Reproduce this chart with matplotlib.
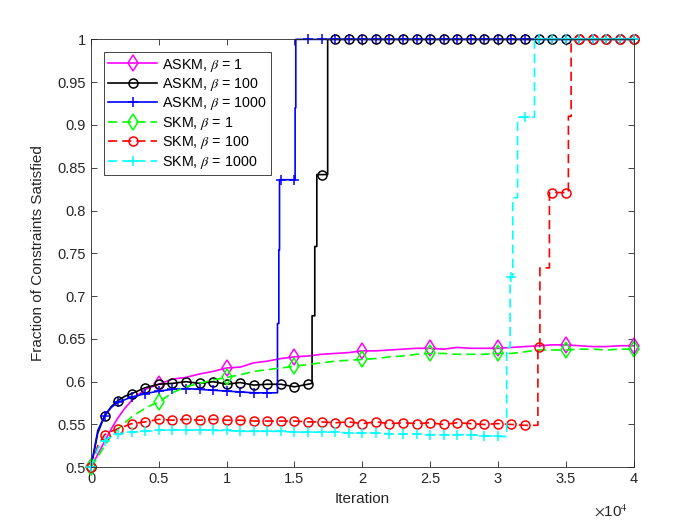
import numpy as np
import matplotlib
matplotlib.use("Agg")
import matplotlib.pyplot as plt

# values (iteration, fraction satisfied)
askm1_x = [0, 500, 1000, 1500, 2000, 2500, 3000, 3500, 4000, 5000, 6000, 7000, 8000, 9000,
           10000, 11000, 12000, 13000, 14000, 15000, 16000, 17000, 18000, 19000, 20000,
           21000, 22000, 23000, 24000, 25000, 26000, 27000, 28000, 29000, 30000,
           31000, 32000, 33000, 34000, 35000, 36000, 37000, 38000, 39000, 40000]
askm1_y = [0.5, 0.515, 0.53, 0.545, 0.558, 0.569, 0.578, 0.585, 0.591, 0.597, 0.603, 0.605, 0.609, 0.612,
           0.616, 0.617, 0.622, 0.624, 0.627, 0.629, 0.63, 0.632, 0.633, 0.634, 0.636,
           0.636, 0.637, 0.638, 0.639, 0.639, 0.638, 0.64, 0.639, 0.639, 0.639,
           0.64, 0.641, 0.642, 0.643, 0.643, 0.642, 0.641, 0.641, 0.642, 0.642]

askm100_x = [0, 500, 1000, 1500, 2000, 2500, 3000, 4000, 5000, 6000, 7000, 8000, 9000, 10000,
             11000, 12000, 13000, 14000, 15000, 16000, 16300, 16300, 16500, 16500, 16650, 16650,
             17000, 17450, 17450, 18000, 19000, 20000, 21000, 22000, 23000, 24000, 25000, 26000,
             27000, 28000, 29000, 30000, 31000, 32000, 33000, 34000, 35000, 36000, 37000, 38000,
             39000, 40000]
askm100_y = [0.5, 0.54, 0.56, 0.571, 0.578, 0.583, 0.586, 0.593, 0.597, 0.598, 0.6, 0.598, 0.6, 0.597,
             0.599, 0.596, 0.597, 0.597, 0.594, 0.597, 0.598, 0.677, 0.677, 0.758, 0.758, 0.842,
             0.842, 0.842, 1.0, 1.0, 1.0, 1.0, 1.0, 1.0, 1.0, 1.0, 1.0, 1.0,
             1.0, 1.0, 1.0, 1.0, 1.0, 1.0, 1.0, 1.0, 1.0, 1.0, 1.0, 1.0,
             1.0, 1.0]

askm1000_x = [0, 500, 1000, 1500, 2000, 3000, 4000, 5000, 6000, 7000, 8000, 9000, 10000, 11000,
              12000, 13000, 13750, 13750, 13850, 13850, 13900, 13900, 14000, 15000, 15050, 15050,
              15100, 15100, 16000, 17000, 18000, 19000, 20000, 21000, 22000, 23000, 24000, 25000,
              26000, 27000, 28000, 29000, 30000, 31000, 32000, 33000, 34000, 35000, 36000, 37000,
              38000, 39000, 40000]
askm1000_y = [0.5, 0.543, 0.56, 0.57, 0.576, 0.582, 0.586, 0.589, 0.591, 0.592, 0.591, 0.59, 0.589, 0.588,
              0.587, 0.587, 0.587, 0.668, 0.668, 0.754, 0.754, 0.836, 0.836, 0.836, 0.836, 0.92,
              0.92, 1.0, 1.0, 1.0, 1.0, 1.0, 1.0, 1.0, 1.0, 1.0, 1.0, 1.0,
              1.0, 1.0, 1.0, 1.0, 1.0, 1.0, 1.0, 1.0, 1.0, 1.0, 1.0, 1.0,
              1.0, 1.0, 1.0]

skm1_x = [0, 500, 1000, 1500, 2000, 2500, 3000, 3500, 4000, 4500, 5000, 6000, 7000, 8000, 9000,
          10000, 11000, 12000, 13000, 14000, 15000, 16000, 17000, 18000, 19000, 20000,
          21000, 22000, 23000, 24000, 25000, 26000, 27000, 28000, 29000, 30000,
          31000, 32000, 33000, 34000, 35000, 36000, 37000, 38000, 39000, 40000]
skm1_y = [0.5, 0.512, 0.525, 0.537, 0.545, 0.552, 0.559, 0.564, 0.569, 0.573, 0.576, 0.587, 0.594, 0.598, 0.602,
          0.605, 0.608, 0.612, 0.614, 0.616, 0.618, 0.62, 0.622, 0.624, 0.625, 0.626,
          0.627, 0.629, 0.63, 0.632, 0.633, 0.633, 0.632, 0.632, 0.632, 0.633,
          0.633, 0.635, 0.637, 0.637, 0.637, 0.638, 0.638, 0.637, 0.638, 0.638]

skm100_x = [0, 500, 1000, 1500, 2000, 3000, 4000, 5000, 6000, 7000, 8000, 9000, 10000, 11000,
            12000, 13000, 14000, 15000, 16000, 17000, 18000, 19000, 20000, 21000, 22000, 23000,
            24000, 25000, 26000, 27000, 28000, 29000, 30000, 31000, 32000, 32950, 32950, 33000,
            33100, 33100, 33800, 33800, 34000, 35000, 35200, 35200, 35400, 35400, 36000, 37000,
            38000, 39000, 40000]
skm100_y = [0.5, 0.525, 0.538, 0.542, 0.545, 0.551, 0.553, 0.556, 0.555, 0.556, 0.555, 0.556, 0.555, 0.555,
            0.554, 0.554, 0.554, 0.554, 0.553, 0.553, 0.552, 0.553, 0.551, 0.553, 0.551, 0.552,
            0.551, 0.552, 0.55, 0.552, 0.551, 0.55, 0.551, 0.55, 0.549, 0.549, 0.641, 0.641,
            0.641, 0.733, 0.733, 0.821, 0.821, 0.821, 0.821, 0.91, 0.91, 1.0, 1.0, 1.0,
            1.0, 1.0, 1.0]

skm1000_x = [0, 500, 1000, 1500, 2000, 3000, 4000, 5000, 6000, 7000, 8000, 9000, 10000, 11000,
             12000, 13000, 14000, 15000, 16000, 17000, 18000, 19000, 20000, 21000, 22000, 23000,
             24000, 25000, 26000, 27000, 28000, 29000, 30000, 30650, 30650, 30900, 30900, 31000,
             31100, 31100, 31450, 31450, 32000, 32700, 32700, 33000, 34000, 35000, 36000, 37000,
             38000, 39000, 40000]
skm1000_y = [0.5, 0.522, 0.531, 0.536, 0.539, 0.541, 0.542, 0.543, 0.544, 0.543, 0.544, 0.543, 0.543, 0.542,
             0.542, 0.542, 0.542, 0.541, 0.541, 0.541, 0.541, 0.54, 0.54, 0.54, 0.539, 0.539,
             0.539, 0.538, 0.538, 0.538, 0.538, 0.537, 0.536, 0.536, 0.64, 0.64, 0.722, 0.722,
             0.722, 0.815, 0.815, 0.909, 0.909, 0.909, 1.0, 1.0, 1.0, 1.0, 1.0, 1.0,
             1.0, 1.0, 1.0]

xtick_vals = [0, 5000, 10000, 15000, 20000, 25000, 30000, 35000, 40000]
xtick_labels = ['0', '0.5', '1', '1.5', '2', '2.5', '3', '3.5', '4']
ytick_vals = [0.5, 0.55, 0.6, 0.65, 0.7, 0.75, 0.8, 0.85, 0.9, 0.95, 1.0]
ytick_labels = ['0.5', '0.55', '0.6', '0.65', '0.7', '0.75', '0.8', '0.85', '0.9', '0.95', '1']

plt.rcParams['font.family'] = ['Liberation Sans', 'DejaVu Sans']
plt.rcParams['mathtext.fontset'] = 'stix'
dark = (0.15, 0.15, 0.15)

fig = plt.figure(figsize=(7, 5.25), dpi=100)
ax = fig.add_axes([0.13, 0.11, 0.775, 0.815])

dash = (0, (5.5, 3))
series = [
    (askm1_x, askm1_y, (1, 0, 1), '-', 'd', 5000, 8, r'ASKM, $\beta$ = 1'),
    (askm100_x, askm100_y, (0, 0, 0), '-', 'o', 1000, 6.5, r'ASKM, $\beta$ = 100'),
    (askm1000_x, askm1000_y, (0, 0, 1), '-', '+', 1000, 7, r'ASKM, $\beta$ = 1000'),
    (skm1_x, skm1_y, (0, 1, 0), dash, 'd', 5000, 8, r'SKM, $\beta$ = 1'),
    (skm100_x, skm100_y, (1, 0, 0), dash, 'o', 1000, 6.5, r'SKM, $\beta$ = 100'),
    (skm1000_x, skm1000_y, (0, 1, 1), dash, '+', 1000, 7, r'SKM, $\beta$ = 1000'),
]
for xs, ys, col, ls, mk, step, ms, lab in series:
    xs = np.array(xs)
    ys = np.array(ys)
    idx = list(np.where(xs % step == 0)[0])
    ax.plot(xs, ys, color=col, linestyle=ls, linewidth=1.2, marker=mk, markevery=idx,
            markersize=ms, markerfacecolor='none', markeredgecolor=col, markeredgewidth=1.1,
            label=lab, clip_on=False)

ax.set_xlim(0, 40000)
ax.set_ylim(0.5, 1)
ax.set_xticks(xtick_vals)
ax.set_xticklabels(xtick_labels)
ax.set_yticks(ytick_vals)
ax.set_yticklabels(ytick_labels)
ax.tick_params(direction='in', length=4, width=0.6, top=True, right=True, colors=dark,
               labelsize=10.5, labelcolor=dark)
for sp in ax.spines.values():
    sp.set_color(dark)
    sp.set_linewidth(0.6)

ax.set_xlabel('Iteration', fontsize=11, color=dark, labelpad=4)
ax.set_ylabel('Fraction of Constraints Satisfied', fontsize=11, color=dark, labelpad=9)
ax.text(0.99, -0.085, r'$\times$10$^{4}$', transform=ax.transAxes, ha='right', va='top',
        fontsize=11, color=dark)

leg = ax.legend(loc='upper left', bbox_to_anchor=(0.024, 0.97), borderaxespad=0,
                fontsize=10.3, handlelength=3.4, handletextpad=0.35, labelspacing=0.17,
                borderpad=0.3, fancybox=False, edgecolor=dark, framealpha=1)
leg.get_frame().set_linewidth(0.6)
for t in leg.get_texts():
    t.set_color('k')

fig.savefig('out.png', dpi=100)
